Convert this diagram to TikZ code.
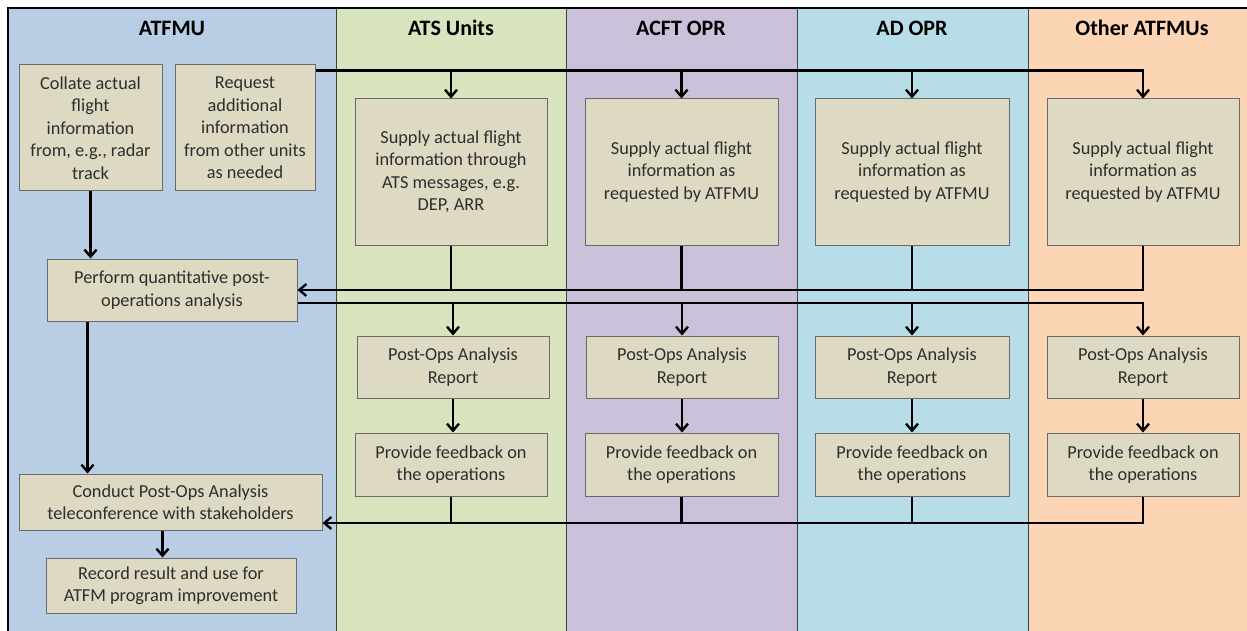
\documentclass[tikz,border=0pt]{standalone}
\usepackage{fontspec}
\setmainfont{Carlito}
\usetikzlibrary{arrows.meta,calc}
\definecolor{laneA}{HTML}{B9CDE5}
\definecolor{laneB}{HTML}{D7E4BD}
\definecolor{laneC}{HTML}{CCC1DA}
\definecolor{laneD}{HTML}{B7DEE8}
\definecolor{laneE}{HTML}{FCD5B5}
\definecolor{boxfill}{HTML}{DDD9C3}
\definecolor{boxline}{HTML}{6A6A6A}
\definecolor{boxtext}{HTML}{2E2E2E}
\tikzset{
  box/.style={draw=boxline, line width=1pt, fill=boxfill, rectangle, align=center,
    inner sep=2pt, text=boxtext, font=\fontsize{18.3}{22.5}\selectfont},
  hdr/.style={font=\fontsize{22}{26}\selectfont\bfseries, text=black},
  conn/.style={line width=2.2pt, black},
  arr/.style={conn, -{Straight Barb[length=7pt,width=12pt,line width=2.4pt]}},
  lanediv/.style={line width=0.8pt, draw=black!75}
}
\begin{document}
\begin{tikzpicture}[x=1pt,y=-1pt]
\useasboundingbox (0,0) rectangle (1247,631);
\fill[white] (0,0) rectangle (1247,631);
% lanes
\fill[laneA] (8,8) rectangle (336,631);
\fill[laneB] (336,8) rectangle (566,631);
\fill[laneC] (566,8) rectangle (797,631);
\fill[laneD] (797,8) rectangle (1028,631);
\fill[laneE] (1028,8) rectangle (1247,631);
\foreach \x in {336,566,797,1028} \draw[lanediv] (\x,8) -- (\x,631);
\draw[line width=2.5pt] (8,631) -- (8,8) -- (1247,8);
% headers
\node[hdr] (hA) at (172,28) {ATFMU};
\node[hdr] (hB) at (451,28) {ATS Units};
\node[hdr] (hC) at (681,28) {ACFT OPR};
\node[hdr] (hD) at (912,28) {AD OPR};
\node[hdr] (hE) at (1142,28) {Other ATFMUs};
% ATFMU boxes
\node[box, minimum width=143, minimum height=126] (collate) at (90.5,128) {Collate actual\\flight\\information\\from, e.g., radar\\track};
\node[box, minimum width=140, minimum height=126] (request) at (245,128) {Request\\additional\\information\\from other units\\as needed};
\node[box, minimum width=250, minimum height=62] (perform) at (172,290) {Perform quantitative post-\\operations analysis};
\node[box, minimum width=303, minimum height=56] (conduct) at (170.5,502) {Conduct Post-Ops Analysis\\teleconference with stakeholders};
\node[box, minimum width=250, minimum height=55] (record) at (171,585.5) {Record result and use for\\ATFM program improvement};
% supply boxes
\node[box, minimum width=192, minimum height=146] (supB) at (451,172) {Supply actual flight\\information through\\ATS messages, e.g.\\DEP, ARR};
\node[box, minimum width=193, minimum height=146] (supC) at (681.5,172) {Supply actual flight\\information as\\requested by ATFMU};
\node[box, minimum width=194, minimum height=146] (supD) at (912,172) {Supply actual flight\\information as\\requested by ATFMU};
\node[box, minimum width=192, minimum height=146] (supE) at (1143,172) {Supply actual flight\\information as\\requested by ATFMU};
% report boxes
\node[box, minimum width=192, minimum height=62] (repB) at (453,367) {Post-Ops Analysis\\Report};
\node[box, minimum width=192, minimum height=62] (repC) at (682,367) {Post-Ops Analysis\\Report};
\node[box, minimum width=194, minimum height=62] (repD) at (912,367) {Post-Ops Analysis\\Report};
\node[box, minimum width=192, minimum height=62] (repE) at (1143,367) {Post-Ops Analysis\\Report};
% feedback boxes
\node[box, minimum width=192, minimum height=63] (fbB) at (451,464.5) {Provide feedback on\\the operations};
\node[box, minimum width=193, minimum height=63] (fbC) at (681.5,464.5) {Provide feedback on\\the operations};
\node[box, minimum width=194, minimum height=63] (fbD) at (912,464.5) {Provide feedback on\\the operations};
\node[box, minimum width=192, minimum height=63] (fbE) at (1143,464.5) {Provide feedback on\\the operations};
% connectors: request -> supply boxes
\coordinate (t0) at ($(request.north east)+(0,6)$);
\draw[arr] (t0) -| (supE.north);
\foreach \n in {supB,supC,supD} \draw[arr] (\n.north |- t0) -- (\n.north);
% collate -> perform
\draw[arr] (collate.south) -- (collate.south |- perform.north);
% supply -> perform
\draw[arr] (supE.south) |- (perform.east);
\foreach \n in {supB,supC,supD} \draw[conn] (\n.south) -- (\n.south |- perform.east);
% perform -> reports
\coordinate (o0) at ($(perform.east)+(0,13)$);
\draw[arr] (o0) -| (repE.north);
\foreach \n in {repB,repC,repD} \draw[arr] (\n.north |- o0) -- (\n.north);
% report -> feedback
\draw[arr] (repB.south) -- (repB.south |- fbB.north);
\draw[arr] (repC.south) -- (repC.south |- fbC.north);
\draw[arr] (repD.south) -- (repD.south |- fbD.north);
\draw[arr] (repE.south) -- (repE.south |- fbE.north);
% feedback -> conduct
\coordinate (f0) at ($(conduct.east)+(0,21)$);
\draw[arr] (fbE.south) |- (f0);
\foreach \n in {fbB,fbC,fbD} \draw[conn] (\n.south) -- (\n.south |- f0);
% perform -> conduct
\coordinate (p1) at ($(perform.south west)+(41,0)$);
\draw[arr] (p1) -- (p1 |- conduct.north);
% conduct -> record
\coordinate (c1) at ($(conduct.south)+(-8,0)$);
\draw[arr] (c1) -- (c1 |- record.north);
\end{tikzpicture}
\end{document}
